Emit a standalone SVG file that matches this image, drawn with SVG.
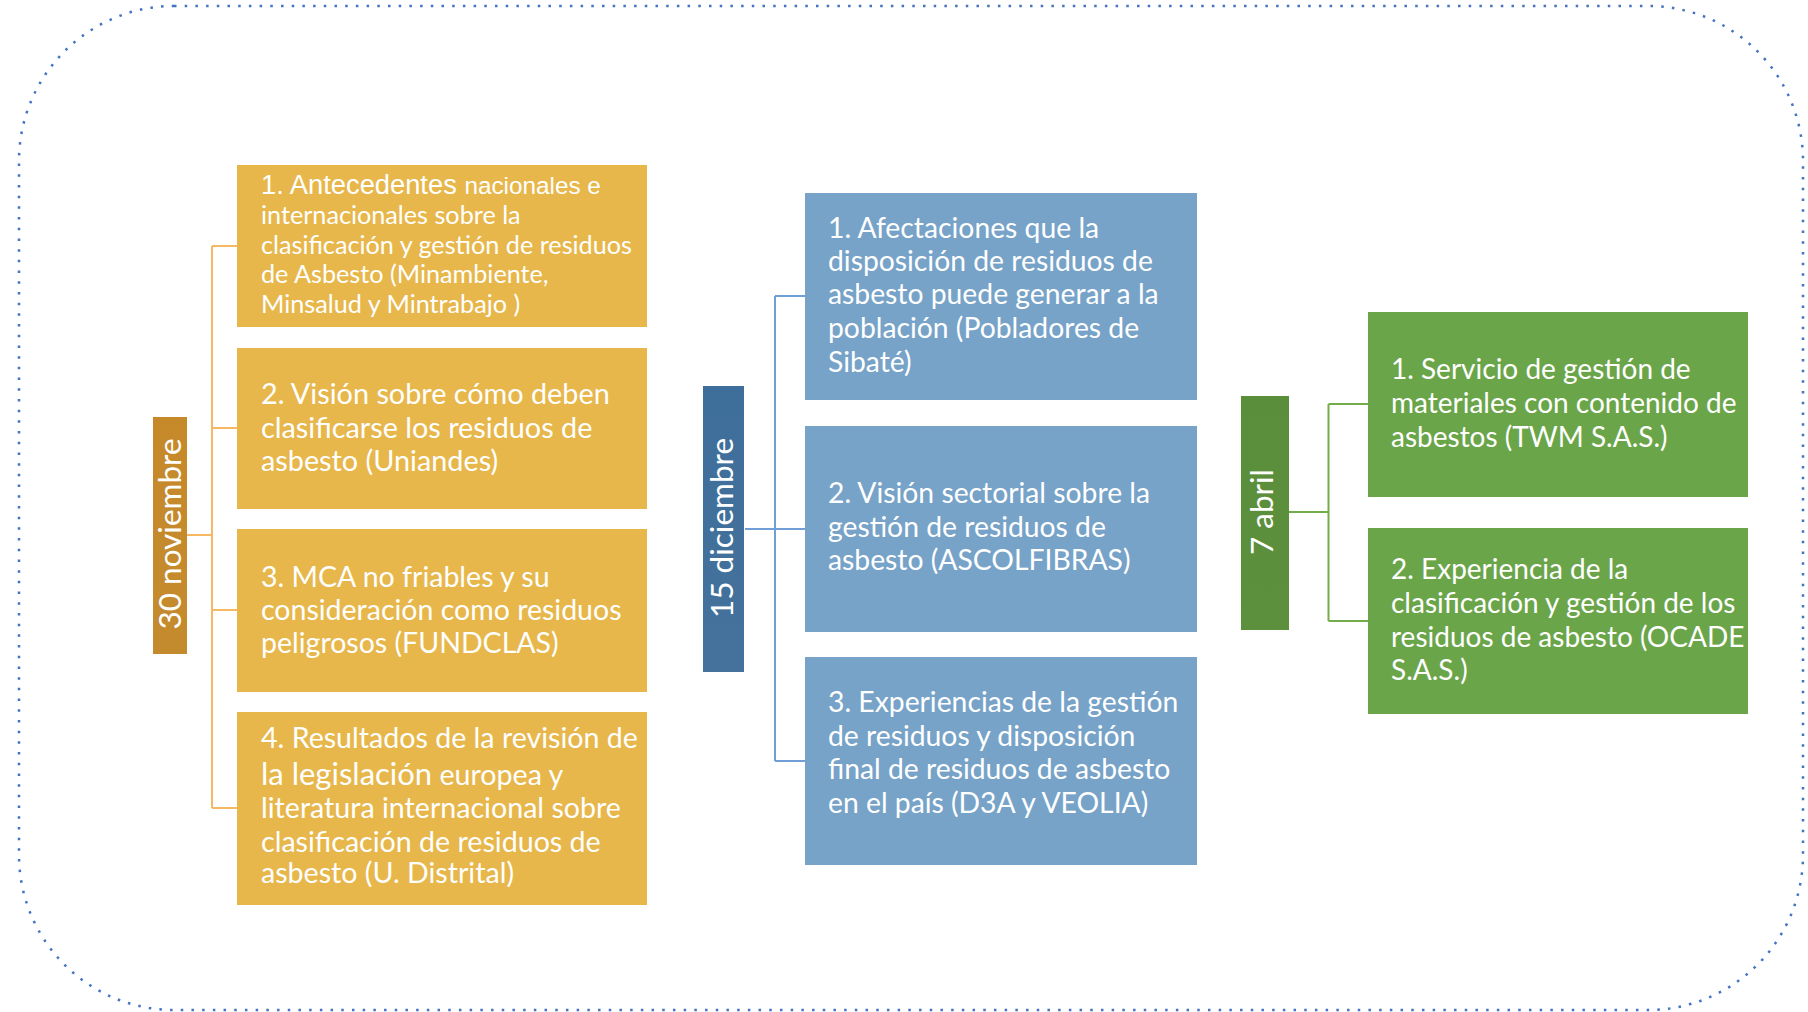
<svg xmlns="http://www.w3.org/2000/svg" width="1808" height="1012" viewBox="0 0 1808 1012">
<defs>
<style>
.t{font-family:Lato,"Open Sans","Liberation Sans",sans-serif;fill:#FFFFFF;}
.a{font-family:"Liberation Sans",Arial,sans-serif;fill:#FFFFFF;}
.ob{fill:#E7B74B;}
.bb{fill:#77A3C8;}
.gb{fill:#6BA54A;}
.lab{font-family:Lato,"Open Sans","Liberation Sans",sans-serif;fill:#FFFFFF;text-anchor:middle;}
.co{stroke:#F5B863;stroke-width:2;fill:none;}
.cb{stroke:#6F9FD6;stroke-width:2;fill:none;}
.cg{stroke:#72AD4A;stroke-width:2;fill:none;}
</style>
<linearGradient id="gO" x1="0" y1="0" x2="0" y2="1"><stop offset="0" stop-color="#C6892A"/><stop offset="1" stop-color="#C48B2E"/></linearGradient>
<linearGradient id="gB" x1="0" y1="0" x2="0" y2="1"><stop offset="0" stop-color="#3E6E9A"/><stop offset="1" stop-color="#44729C"/></linearGradient>
<linearGradient id="gG" x1="0" y1="0" x2="0" y2="1"><stop offset="0" stop-color="#5A8E3B"/><stop offset="1" stop-color="#5C903C"/></linearGradient>
</defs>
<rect width="1808" height="1012" fill="#FFFFFF"/>
<rect id="border" x="19" y="6" width="1784" height="1004" rx="155" ry="155" fill="none" stroke="#4472C4" stroke-width="2.5" stroke-dasharray="2.5 8.2"/>

<g id="connectors">
<path class="co" d="M187 535H212M212 246V808M212 246H237M212 428H237M212 610H237M212 808H237"/>
<path class="cb" d="M745 529H805M775 296V761M775 296H805M775 761H805"/>
<path class="cg" d="M1289 512H1328.5M1328.5 404V621M1328.5 404H1368M1328.5 621H1368"/>
</g>

<g id="label-nov">
<rect x="153" y="417" width="34" height="237" fill="url(#gO)"/>
<text class="lab" font-size="31.5" transform="translate(181 534) rotate(-90)">30 noviembre</text>
</g>
<g id="nov-1">
<rect class="ob" x="237" y="165" width="410" height="162"/>
<text x="261" y="194"><tspan class="a" font-size="27.3">1. Antecedentes </tspan><tspan class="a" font-size="24.3">nacionales e</tspan></text>
<text class="t" font-size="25.2"><tspan x="261" y="224">internacionales sobre la</tspan><tspan x="261" y="253.5">clasificación y gestión de residuos</tspan><tspan x="261" y="283.3">de Asbesto (Minambiente,</tspan><tspan x="261" y="313">Minsalud y Mintrabajo )</tspan></text>
</g>
<g id="nov-2">
<rect class="ob" x="237" y="348" width="410" height="161"/>
<text class="t" font-size="28.8"><tspan x="261" y="404">2. Visión sobre cómo deben</tspan><tspan x="261" y="437.5">clasificarse los residuos de</tspan><tspan x="261" y="471">asbesto (Uniandes)</tspan></text>
</g>
<g id="nov-3">
<rect class="ob" x="237" y="529" width="410" height="163"/>
<text class="t" font-size="28.5"><tspan x="261" y="587.3">3. MCA no  friables y su</tspan><tspan x="261" y="619.5">consideración como residuos</tspan><tspan x="261" y="652.5">peligrosos (FUNDCLAS)</tspan></text>
</g>
<g id="nov-4">
<rect class="ob" x="237" y="712" width="410" height="193"/>
<text class="t" font-size="28.6"><tspan x="261" y="748.3">4. Resultados de la revisión de</tspan><tspan x="261" y="785"><tspan font-size="31">la legislación</tspan> europea y</tspan><tspan x="261" y="818.3">literatura internacional sobre</tspan><tspan x="261" y="851.7">clasificación de residuos de</tspan><tspan x="261" y="883.3">asbesto (U. Distrital)</tspan></text>
</g>

<g id="label-dic">
<rect x="703" y="386" width="41" height="286" fill="url(#gB)"/>
<text class="lab" font-size="31.5" transform="translate(733 528) rotate(-90)">15 diciembre</text>
</g>
<g id="dic-1">
<rect class="bb" x="805" y="193" width="392" height="207"/>
<text class="t" font-size="28.3"><tspan x="828" y="238.3">1. Afectaciones que la</tspan><tspan x="828" y="271">disposición de residuos de</tspan><tspan x="828" y="304">asbesto puede generar a la</tspan><tspan x="828" y="338">población (Pobladores de</tspan><tspan x="828" y="371.7">Sibaté)</tspan></text>
</g>
<g id="dic-2">
<rect class="bb" x="805" y="426" width="392" height="206"/>
<text class="t" font-size="28.3"><tspan x="828" y="503.3">2. Visión sectorial sobre la</tspan><tspan x="828" y="536.7">gestión de residuos de</tspan><tspan x="828" y="570">asbesto (ASCOLFIBRAS)</tspan></text>
</g>
<g id="dic-3">
<rect class="bb" x="805" y="657" width="392" height="208"/>
<text class="t" font-size="28.3"><tspan x="828" y="711.7">3. Experiencias de la gestión</tspan><tspan x="828" y="746">de residuos y disposición</tspan><tspan x="828" y="779.3">final de residuos de asbesto</tspan><tspan x="828" y="812.7">en el país (D3A y VEOLIA)</tspan></text>
</g>

<g id="label-abr">
<rect x="1241" y="396" width="48" height="234" fill="url(#gG)"/>
<text class="lab" font-size="31.5" transform="translate(1273 512) rotate(-90)">7 abril</text>
</g>
<g id="abr-1">
<rect class="gb" x="1368" y="312" width="380" height="185"/>
<text class="t" font-size="28"><tspan x="1391" y="379.3">1. Servicio de gestión de</tspan><tspan x="1391" y="412.7">materiales con contenido de</tspan><tspan x="1391" y="446.7">asbestos (TWM S.A.S.)</tspan></text>
</g>
<g id="abr-2">
<rect class="gb" x="1368" y="528" width="380" height="186"/>
<text class="t" font-size="28"><tspan x="1391" y="579.3">2. Experiencia de la</tspan><tspan x="1391" y="613.3">clasificación y gestión de los</tspan><tspan x="1391" y="646.7">residuos de asbesto (OCADE</tspan><tspan x="1391" y="680">S.A.S.)</tspan></text>
</g>
</svg>
